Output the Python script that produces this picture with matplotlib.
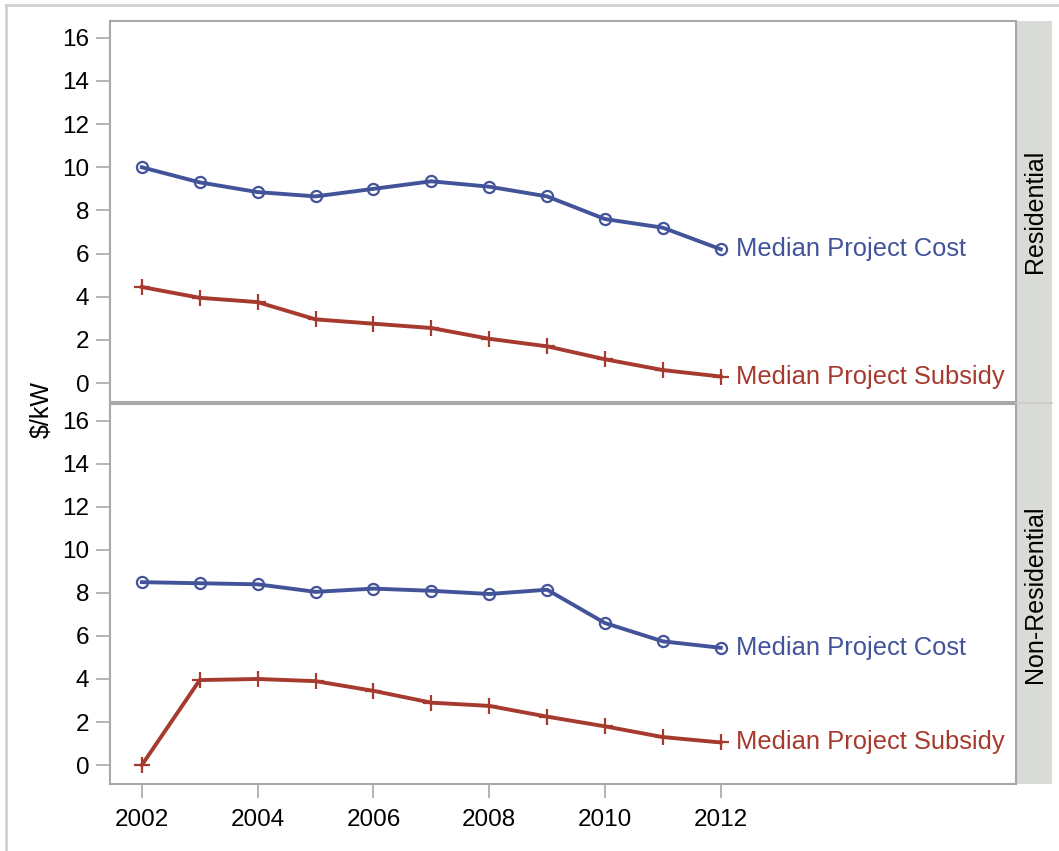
import matplotlib
matplotlib.use("Agg")
import matplotlib.pyplot as plt
from matplotlib.lines import Line2D
from matplotlib.patches import Rectangle

years = [2002, 2003, 2004, 2005, 2006, 2007, 2008, 2009, 2010, 2011, 2012]
res_cost = [10.0, 9.3, 8.85, 8.65, 9.0, 9.35, 9.1, 8.65, 7.6, 7.2, 6.2]
res_subsidy = [4.45, 3.95, 3.75, 2.95, 2.75, 2.55, 2.05, 1.7, 1.1, 0.6, 0.3]
nonres_cost = [8.5, 8.45, 8.4, 8.05, 8.2, 8.1, 7.95, 8.15, 6.6, 5.75, 5.45]
nonres_subsidy = [0.0, 3.95, 4.0, 3.9, 3.45, 2.9, 2.75, 2.25, 1.8, 1.3, 1.05]
panels = ["Residential", "Non-Residential"]
series_labels = ["Median Project Cost", "Median Project Subsidy"]
yticks = [0, 2, 4, 6, 8, 10, 12, 14, 16]
xticks = [2002, 2004, 2006, 2008, 2010, 2012]

plt.rcParams['font.family'] = ['Liberation Sans', 'DejaVu Sans']

W, H = 1059, 851
fig = plt.figure(figsize=(W / 100, H / 100), dpi=100)

blue = "#42539a"
red = "#a63a2e"
frame = "#a8a8a8"
strip_col = "#d9dbd6"

# outer border (top and left)
fig.add_artist(Line2D([6 / W, 1], [1 - 5 / H, 1 - 5 / H], color="#d0d0d0", lw=2, transform=fig.transFigure))
fig.add_artist(Line2D([6 / W, 6 / W], [0, 1 - 5 / H], color="#d0d0d0", lw=2, transform=fig.transFigure))

left, right = 110 / W, 1016 / W
panel_px = [(21, 402), (404, 784)]
data = [(res_cost, res_subsidy), (nonres_cost, nonres_subsidy)]

axes = []
for i, ((top, bot), (cost, sub)) in enumerate(zip(panel_px, data)):
    ax = fig.add_axes([left, 1 - bot / H, right - left, (bot - top) / H])
    axes.append(ax)
    ax.plot(years, cost, color=blue, lw=2.8, marker="o", ms=8, mfc="none", mec=blue, mew=1.6)
    ax.plot(years, sub, color=red, lw=2.8, marker="+", ms=12, mec=red, mew=1.6)
    ax.text(years[-1] + 0.26, cost[-1], series_labels[0], color=blue, fontsize=18.4, va="center", ha="left")
    ax.text(years[-1] + 0.26, sub[-1], series_labels[1], color=red, fontsize=18.4, va="center", ha="left")
    ax.set_xlim(2001.45, 2017.1)
    ax.set_ylim(-0.88, 16.78)
    ax.set_yticks(yticks)
    ax.set_yticklabels([str(v) for v in yticks])
    ax.set_xticks(xticks)
    for s in ax.spines.values():
        s.set_color(frame)
        s.set_linewidth(1.5)
    ax.tick_params(axis="both", color=frame, length=10, width=1.2, pad=5, labelsize=17.5)
    ax.tick_params(axis="x", pad=8)
    if i == 0:
        ax.tick_params(axis="x", bottom=False, labelbottom=False)
    # strip on the right
    sx0 = 1016 / W
    sw = (1052 - 1016) / W
    fig.add_artist(Rectangle((sx0, 1 - bot / H), sw, (bot - top) / H, facecolor=strip_col,
                             edgecolor="none", transform=fig.transFigure, zorder=0))
    fig.text(sx0 + sw / 2 + 0.001, 1 - (top + bot) / 2 / H, panels[i], rotation=90,
             ha="center", va="center", fontsize=18)

# separator line in strip
fig.add_artist(Line2D([1016 / W, 1052 / W], [1 - 403 / H, 1 - 403 / H], color="#c4c4c4", lw=1.2, transform=fig.transFigure))

fig.text(42 / W, 1 - 410 / H, "$/kW", rotation=90, ha="center", va="center", fontsize=18)

fig.savefig("out.png", dpi=100)
